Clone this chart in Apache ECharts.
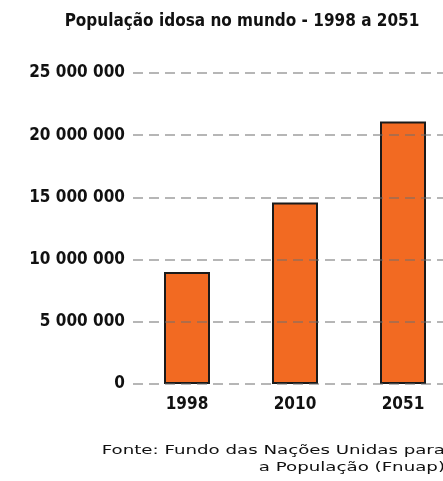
<!DOCTYPE html>
<html>
<head>
<meta charset="utf-8">
<script src="https://cdn.jsdelivr.net/npm/echarts@6/dist/echarts.min.js"></script>
<style>
  html, body { margin: 0; padding: 0; background: #fff; }
  #chart { width: 443px; height: 481px; }
</style>
</head>
<body>
<div id="chart"></div>
<script>
// data
const years = ['1998', '2010', '2051'];
const idosos = [9000000, 14600000, 21100000];
const yTicks = [0, 5000000, 10000000, 15000000, 20000000, 25000000];

const titleText = 'População idosa no mundo - 1998 a 2051';
const sourceLines = ['Fonte: Fundo das Nações Unidas para', 'a População (Fnuap)'];

const boldFont = "'Liberation Sans Narrow', 'DejaVu Sans Condensed', sans-serif";

function spaced(v) {
  // 25000000 -> "25 000 000"
  return String(v).replace(/\B(?=(\d{3})+(?!\d))/g, ' ');
}

const chart = echarts.init(document.getElementById('chart'));

chart.setOption({
  backgroundColor: '#ffffff',
  animation: false,
  title: {
    text: titleText,
    left: 237,
    textAlign: 'center',
    top: 8,
    textStyle: { fontFamily: boldFont, fontWeight: 'bold', fontSize: 17, color: '#111' }
  },
  // plot runs past the right edge in the original, so don't let echarts pull it back in
  grid: { left: 133, top: 73, right: -14, height: 311, containLabel: false, outerBoundsMode: 'none' },
  xAxis: {
    type: 'category',
    data: years,
    axisLine: { show: false },
    axisTick: { show: false },
    axisLabel: {
      margin: 12,
      fontFamily: boldFont, fontWeight: 'bold', fontSize: 17, color: '#111'
    }
  },
  yAxis: {
    type: 'value',
    min: yTicks[0],
    max: yTicks[yTicks.length - 1],
    interval: yTicks[1] - yTicks[0],
    z: 3,
    axisLine: { show: false },
    axisTick: { show: false },
    axisLabel: {
      margin: 8,
      formatter: v => spaced(v),
      fontFamily: boldFont, fontWeight: 'bold', fontSize: 17, color: '#111'
    },
    splitLine: {
      show: true,
      lineStyle: { color: 'rgba(110,110,110,0.5)', width: 2, type: [10, 6] }
    }
  },
  series: [{
    type: 'bar',
    data: idosos,
    barWidth: 46,
    itemStyle: { color: '#f26a22', borderColor: '#1a1a1a', borderWidth: 2 }
  }],
  graphic: [
    {
      type: 'text', x: 445, y: 444, scaleX: 1.4,
      style: { text: sourceLines[0], x: 0, y: 0, fontFamily: 'DejaVu Sans', fontSize: 13, fill: '#111', textAlign: 'right' }
    },
    {
      type: 'text', x: 445, y: 461, scaleX: 1.4,
      style: { text: sourceLines[1], x: 0, y: 0, fontFamily: 'DejaVu Sans', fontSize: 13, fill: '#111', textAlign: 'right' }
    }
  ]
});
</script>
</body>
</html>
